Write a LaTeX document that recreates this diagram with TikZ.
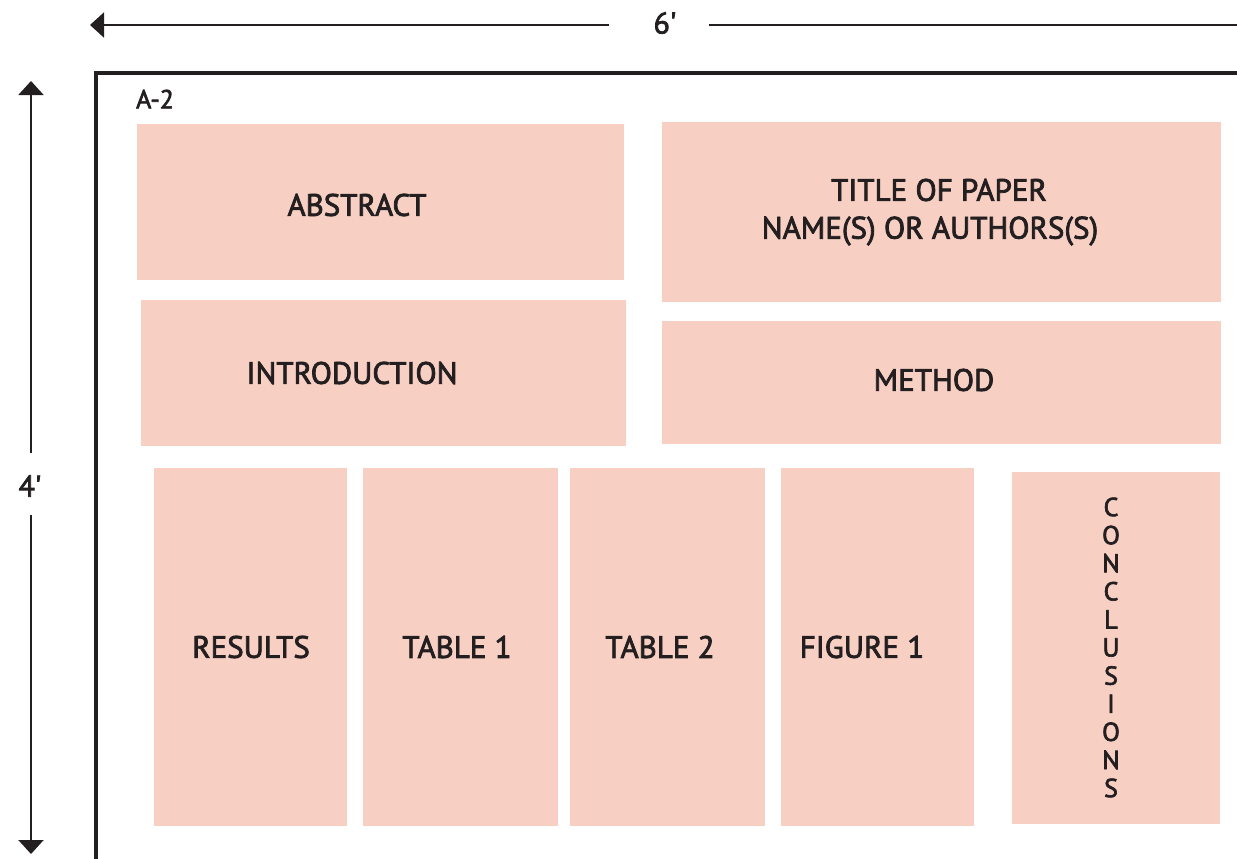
\documentclass[tikz,border=0pt]{standalone}
\usepackage{fontspec}
\setmainfont[FakeBold=2.5]{PT Sans}
\newfontfamily\dimfont[FakeBold=2.5,Ligatures=TeXOff]{PT Sans}
\usetikzlibrary{arrows.meta}
\definecolor{boxfill}{RGB}{247,207,195}
\definecolor{ink}{RGB}{35,31,32}
\tikzset{
  box/.style={rectangle, fill=boxfill, draw=none, inner sep=0pt},
  lbl/.style={text=ink, inner sep=0pt, font=\fontsize{31}{40}\selectfont, align=center},
  small/.style={text=ink, inner sep=0pt, font=\fontsize{26}{28}\selectfont},
  dim/.style={text=ink, inner sep=0pt, font=\dimfont\fontsize{30}{32}\selectfont},
  dimline/.style={draw=ink, line width=2pt},
  tip/.style={-{Triangle[length=14pt,width=25pt]}},
  frame/.style={draw=ink, line width=3.2pt},
}
\begin{document}
\begin{tikzpicture}[x=1pt,y=-1pt]
\useasboundingbox (0,0) rectangle (1237,859);
% frame
\draw[frame] (96,870) -- (96,73) -- (1250,73);
% boxes
\node[box, minimum width=487pt, minimum height=156pt] (abstract) at (380.5,202) {};
\node[box, minimum width=559pt, minimum height=180pt] (title) at (941.5,212) {};
\node[box, minimum width=485pt, minimum height=146pt] (intro) at (383.5,373) {};
\node[box, minimum width=559pt, minimum height=123pt] (method) at (941.5,382.5) {};
\node[box, minimum width=193pt, minimum height=358pt] (results) at (250.5,647) {};
\node[box, minimum width=195pt, minimum height=358pt] (table1) at (460.5,647) {};
\node[box, minimum width=195pt, minimum height=358pt] (table2) at (667.5,647) {};
\node[box, minimum width=193pt, minimum height=358pt] (figure1) at (877.5,647) {};
\node[box, minimum width=208pt, minimum height=352pt] (concl) at (1116,648) {};
% labels
\node[lbl] (tabstract) at (357,205) {ABSTRACT};
\node[lbl] (ttitle1) at (939,190) {TITLE OF PAPER};
\node[lbl] (ttitle2) at (930,231) {NAME(S) OR AUTHORS(S)};
\node[lbl] (tintro) at (352,373) {INTRODUCTION};
\node[lbl] (tmethod) at (934,380) {METHOD};
\node[lbl] (tresults) at (251,647) {RESULTS};
\node[lbl] (ttable1) at (457,647) {TABLE 1};
\node[lbl] (ttable2) at (660,647) {TABLE 2};
\node[lbl] (tfigure1) at (862,647) {FIGURE 1};
\foreach \ch [count=\i from 0] in {C,O,N,C,L,U,S,I,O,N,S}
  \node[small, anchor=center] (c\i) at (1111,{507+28.1*\i}) {\ch};
\node[small] (a2) at (155,99) {A-2};
% dimension arrows
\node[dim] (six) at (665,23) {6'};
\coordinate (hl) at (90,25);
\coordinate (hm) at (609,25);
\coordinate (hr1) at (709,25);
\coordinate (hr2) at (1240,25);
\draw[dimline, tip] (hm) -- (hl);
\draw[dimline] (hr1) -- (hr2);
\node[dim] (four) at (30,486) {4'};
\coordinate (vt) at (31,81);
\coordinate (vm1) at (31,453);
\coordinate (vm2) at (31,515);
\coordinate (vb) at (31,854);
\draw[dimline, tip] (vm1) -- (vt);
\draw[dimline, tip] (vm2) -- (vb);
\end{tikzpicture}
\end{document}
